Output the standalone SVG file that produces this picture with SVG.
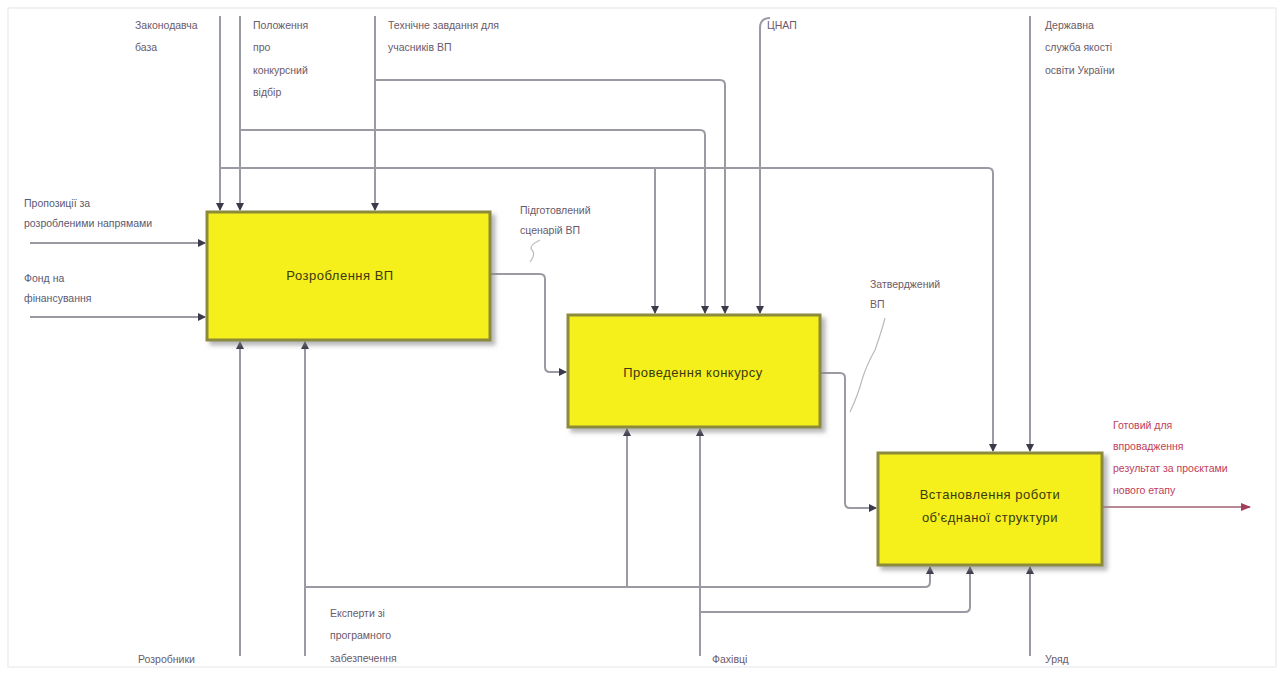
<svg xmlns="http://www.w3.org/2000/svg" width="1284" height="673" viewBox="0 0 1284 673">
<defs>
<marker id="ah" markerWidth="8" markerHeight="8" refX="7" refY="4" orient="auto" markerUnits="userSpaceOnUse">
<path d="M0,0 L8,4 L0,8 Z" fill="#3a3a4a"/>
</marker>
<marker id="ahr" markerWidth="10" markerHeight="8" refX="9" refY="4" orient="auto" markerUnits="userSpaceOnUse">
<path d="M0,0 L10,4 L0,8 Z" fill="#a0405a"/>
</marker>
<filter id="sh" x="-5%" y="-5%" width="115%" height="120%">
<feDropShadow dx="4" dy="4" stdDeviation="2" flood-color="#888" flood-opacity="0.6"/>
</filter>
</defs>
<style>
.bx{fill:#f5ef1f;stroke:#8c8a3a;stroke-width:3;filter:url(#sh)}
.bt{font-family:"Liberation Sans",Arial,sans-serif;font-size:13px;fill:#3a3a10;text-anchor:middle;letter-spacing:0.5px}
.lb{font-family:"Liberation Sans",Arial,sans-serif;font-size:10.5px;fill:#6a5a6a}
.lbb{font-family:"Liberation Sans",Arial,sans-serif;font-size:10.5px;fill:#5a5a72}
.lr{font-family:"Liberation Sans",Arial,sans-serif;font-size:10.5px;fill:#c0405a}
.cn{fill:none;stroke:#9a9aa2;stroke-width:2}
.cr{fill:none;stroke:#a06070;stroke-width:1.5}
.sq{fill:none;stroke:#bbb;stroke-width:1.2}
</style>
<rect x="0" y="0" width="1284" height="673" fill="#fff"/>
<rect x="8" y="8" width="1268" height="659" fill="none" stroke="#e8e4ea" stroke-width="1"/>

<g id="connectors">
<path class="cn" d="M220,16 V210" marker-end="url(#ah)"/>
<path class="cn" d="M220,168 H988 Q993,168 993,173 V451" marker-end="url(#ah)"/>
<path class="cn" d="M655,168 V313" marker-end="url(#ah)"/>
<path class="cn" d="M240,16 V210" marker-end="url(#ah)"/>
<path class="cn" d="M240,130 H700 Q705,130 705,135 V313" marker-end="url(#ah)"/>
<path class="cn" d="M375,16 V210" marker-end="url(#ah)"/>
<path class="cn" d="M375,80 H720 Q725,80 725,85 V313" marker-end="url(#ah)"/>
<path class="cn" d="M770,18 Q760,18 760,28 V313" marker-end="url(#ah)"/>
<path class="cn" d="M1030,16 V451" marker-end="url(#ah)"/>
<path class="cn" d="M30,243 H205" marker-end="url(#ah)"/>
<path class="cn" d="M30,317 H205" marker-end="url(#ah)"/>
<path class="cn" d="M490,274 H540 Q545,274 545,279 V367 Q545,372 550,372 H566" marker-end="url(#ah)"/>
<path class="cn" d="M820,373 H840 Q845,373 845,378 V503 Q845,508 850,508 H876" marker-end="url(#ah)"/>
<path class="cr" d="M1102,507 H1250" marker-end="url(#ahr)"/>
<path class="cn" d="M240,656 V342" marker-end="url(#ah)"/>
<path class="cn" d="M305,656 V342" marker-end="url(#ah)"/>
<path class="cn" d="M305,587 H925 Q930,587 930,582 V567" marker-end="url(#ah)"/>
<path class="cn" d="M627,587 V429" marker-end="url(#ah)"/>
<path class="cn" d="M700,656 V429" marker-end="url(#ah)"/>
<path class="cn" d="M700,612 H965 Q970,612 970,607 V567" marker-end="url(#ah)"/>
<path class="cn" d="M1030,656 V567" marker-end="url(#ah)"/>
<path class="sq" d="M530,262 Q536,254 532,250 Q528,246 540,240"/>
<path class="sq" d="M850,412 Q858,395 862,380 Q866,366 875,350 Q882,330 885,318"/>
</g>

<g id="box1">
<rect class="bx" x="207" y="212" width="283" height="128"/>
<text class="bt" x="340" y="280">Розроблення ВП</text>
</g>
<g id="box2">
<rect class="bx" x="568" y="315" width="252" height="112"/>
<text class="bt" x="693" y="377">Проведення конкурсу</text>
</g>
<g id="box3">
<rect class="bx" x="878" y="453" width="224" height="112"/>
<text class="bt" x="990" y="499">Встановлення роботи</text>
<text class="bt" x="990" y="522">об'єднаної структури</text>
</g>

<g id="labels">
<text class="lb" x="135" y="29">Законодавча</text>
<text class="lb" x="135" y="51">база</text>
<text class="lb" x="253" y="29">Положення</text>
<text class="lb" x="253" y="51">про</text>
<text class="lb" x="253" y="74">конкурсний</text>
<text class="lb" x="253" y="96">відбір</text>
<text class="lb" x="388" y="29">Технічне завдання для</text>
<text class="lb" x="388" y="51">учасників ВП</text>
<text class="lb" x="767" y="29">ЦНАП</text>
<text class="lb" x="1045" y="29">Державна</text>
<text class="lb" x="1045" y="51">служба якості</text>
<text class="lb" x="1045" y="74">освіти України</text>
<text class="lbb" x="24" y="207">Пропозиції за</text>
<text class="lbb" x="24" y="227">розробленими напрямами</text>
<text class="lbb" x="24" y="282">Фонд на</text>
<text class="lbb" x="24" y="302">фінансування</text>
<text class="lb" x="520" y="214">Підготовлений</text>
<text class="lb" x="520" y="234">сценарій ВП</text>
<text class="lb" x="870" y="288">Затверджений</text>
<text class="lb" x="870" y="308">ВП</text>
<text class="lr" x="1113" y="429">Готовий для</text>
<text class="lr" x="1113" y="450">впровадження</text>
<text class="lr" x="1113" y="472">результат за проєктами</text>
<text class="lr" x="1113" y="494">нового етапу</text>
<text class="lb" x="138" y="663">Розробники</text>
<text class="lb" x="330" y="617">Експерти зі</text>
<text class="lb" x="330" y="639">програмного</text>
<text class="lb" x="330" y="662">забезпечення</text>
<text class="lb" x="712" y="663">Фахівці</text>
<text class="lb" x="1045" y="663">Уряд</text>
</g>
</svg>
